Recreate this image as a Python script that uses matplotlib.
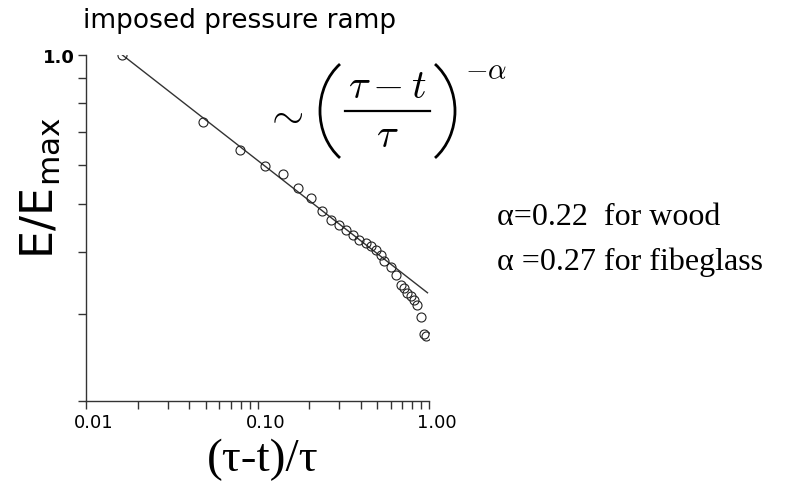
import numpy as np
import matplotlib
matplotlib.use('Agg')
import matplotlib.pyplot as plt
import matplotlib.transforms as mtransforms
from matplotlib.lines import Line2D
from matplotlib.patches import Arc
from matplotlib.ticker import FixedLocator, NullFormatter, FixedFormatter

# normalised energy vs time to failure, imposed pressure ramp
x = [0.0163, 0.0481, 0.0793, 0.1106, 0.1416, 0.1731, 0.2052, 0.2378, 0.2675,
     0.2970, 0.3292, 0.3591, 0.3917, 0.4273, 0.4581, 0.4887, 0.5239, 0.5476,
     0.5988, 0.6385, 0.6829, 0.7108, 0.7479, 0.7826, 0.8180, 0.8551, 0.8948,
     0.9352, 0.9568]
E = [1.0, 0.732, 0.643, 0.5965, 0.576, 0.5385, 0.5131, 0.4838, 0.4641,
     0.4528, 0.4431, 0.4333, 0.4230, 0.4175, 0.4108, 0.4038, 0.3946, 0.3832,
     0.3727, 0.3587, 0.3434, 0.3390, 0.3304, 0.3254, 0.3203, 0.3130, 0.2956,
     0.2733, 0.2704]

alpha = 0.27
x_fit = np.logspace(np.log10(x[0]), np.log10(0.98), 50)
E_fit = (x_fit/x[0])**(-alpha)

plt.rcParams['mathtext.fontset'] = 'cm'

W, H = 785, 485
def fx(px): return px/W
def fy(py): return 1 - py/H

def bracket(cx, cy, a, b, t1, t2):
	# elliptical bracket; Arc wants angles in its own (figure-fraction) frame
	wf, hf = 2*a/W, 2*b/H
	th = [np.degrees(np.arctan2(hf*np.sin(np.radians(t)), wf*np.cos(np.radians(t)))) for t in (t1, t2)]
	return Arc((fx(cx), fy(cy)), wf, hf, theta1=th[0], theta2=th[1],
		transform=fig.transFigure, color='black', lw=2.0)

fig = plt.figure(figsize=(7.85, 4.85), dpi=100)
ax = fig.add_axes([fx(86), fy(402), (429-86)/W, (402-56)/H])

ax.plot(x_fit, E_fit, '-', color='#333333', linewidth=1)
ax.plot(x, E, 'o', mfc='none', mec='#222222', mew=0.8, ms=6.5)

ax.set_xscale('log')
ax.set_yscale('log')
ax.set_xlim(0.01, 1.0)
ax.set_ylim(0.2, 1.0)

for s in ['top', 'right']:
	ax.spines[s].set_visible(False)
for s in ['left', 'bottom']:
	ax.spines[s].set_linewidth(1.0)
	ax.spines[s].set_color('#333333')

ax.xaxis.set_major_locator(FixedLocator([0.01, 0.1, 1.0]))
ax.xaxis.set_major_formatter(FixedFormatter(['0.01', '0.10', '1.00']))
ax.xaxis.set_minor_locator(FixedLocator([k*10.0**d for d in (-2, -1) for k in range(2, 10)]))
ax.xaxis.set_minor_formatter(NullFormatter())
ax.yaxis.set_major_locator(FixedLocator([0.2, 0.3, 0.4, 0.5, 0.6, 0.7, 0.8, 0.9, 1.0]))
ax.yaxis.set_major_formatter(FixedFormatter(['', '', '', '', '', '', '', '', '1.0']))
ax.yaxis.set_minor_locator(FixedLocator([]))

ax.tick_params(which='both', direction='out', length=6, width=1, color='#333333')
ax.tick_params(axis='x', labelsize=13, pad=3)
ax.tick_params(axis='y', labelsize=13, pad=2)
shift = mtransforms.ScaledTranslation(8/100, 0, fig.dpi_scale_trans)
for lab in ax.get_xticklabels():
	lab.set_family('DejaVu Sans')
	lab.set_transform(lab.get_transform() + shift)
for lab in ax.get_yticklabels():
	lab.set_family('DejaVu Sans')
	lab.set_fontweight('bold')

fig.text(fx(240), fy(21), 'imposed pressure ramp', ha='center', va='center',
	fontsize=19, family='DejaVu Sans')
fig.text(fx(40), fy(188), r'E/E$_\mathregular{max}$', rotation=90, ha='center',
	va='center', fontsize=32, family='DejaVu Sans')
fig.text(fx(263), fy(460), '(\u03c4-t)/\u03c4', ha='center', va='center',
	fontsize=34, family='Liberation Serif')

# power law  ~ ((tau - t)/tau)^-alpha, with tall thin brackets
fig.text(fx(284), fy(114), r'$\sim$', ha='center', va='center', fontsize=30)
fig.add_artist(bracket(373, 112, 53, 60, 128.5, 231.5))
fig.add_artist(bracket(402, 112, 53, 60, -51.5, 51.5))
fig.text(fx(387), fy(87), r'$\tau - t$', ha='center', va='center', fontsize=29)
fig.add_artist(Line2D([fx(345), fx(430)], [fy(112), fy(112)], color='black', lw=1.6))
fig.text(fx(387), fy(136), r'$\tau$', ha='center', va='center', fontsize=29)
fig.text(fx(486), fy(71), r'$-\alpha$', ha='center', va='center', fontsize=21)

fig.text(fx(497), fy(218), '\u03b1=0.22  for wood', ha='left', va='center',
	fontsize=23, family='Liberation Serif')
fig.text(fx(497), fy(262), '\u03b1 =0.27 for fibeglass', ha='left', va='center',
	fontsize=23, family='Liberation Serif')

fig.savefig('out.png', dpi=100)
